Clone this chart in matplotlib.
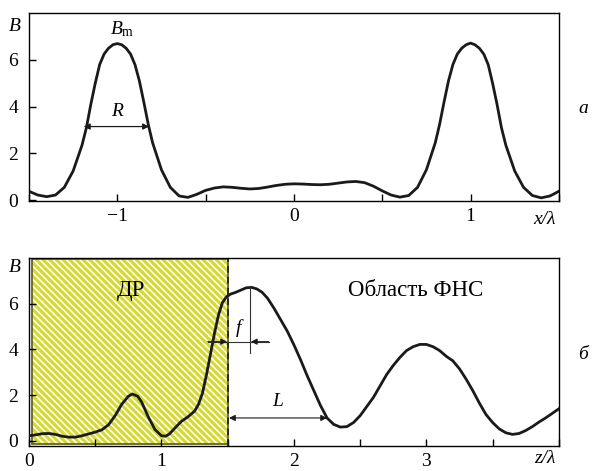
import numpy as np
import matplotlib
matplotlib.use('Agg')
import matplotlib.pyplot as plt
from matplotlib.patches import Rectangle

plt.rcParams['font.family'] = ['Liberation Serif', 'DejaVu Serif']
plt.rcParams['mathtext.fontset'] = 'custom'
plt.rcParams['mathtext.rm'] = 'Liberation Serif'
plt.rcParams['mathtext.it'] = 'Liberation Serif:italic'
plt.rcParams['hatch.linewidth'] = 1.2

# panel a: B(x)
xa = [-1.500, -1.450, -1.400, -1.350, -1.300, -1.250, -1.200, -1.175, -1.150, -1.125,
      -1.100, -1.075, -1.050, -1.025, -1.000, -0.975, -0.950, -0.925, -0.900, -0.875,
      -0.850, -0.825, -0.800, -0.750, -0.700, -0.650, -0.600, -0.550, -0.500, -0.450,
      -0.400, -0.350, -0.300, -0.250, -0.200, -0.150, -0.100, -0.050, 0.000, 0.050,
      0.100, 0.150, 0.200, 0.250, 0.300, 0.350, 0.400, 0.450, 0.500, 0.550,
      0.600, 0.650, 0.700, 0.750, 0.800, 0.825, 0.850, 0.875, 0.900, 0.925,
      0.950, 0.975, 1.000, 1.025, 1.050, 1.075, 1.100, 1.125, 1.150, 1.175,
      1.200, 1.250, 1.300, 1.350, 1.400, 1.450, 1.500]
Ba = [0.38, 0.22, 0.15, 0.22, 0.55, 1.25, 2.35, 3.1, 4.1, 5.0,
      5.8, 6.25, 6.5, 6.65, 6.7, 6.65, 6.5, 6.25, 5.8, 5.1,
      4.2, 3.25, 2.45, 1.3, 0.55, 0.18, 0.12, 0.25, 0.42, 0.52,
      0.57, 0.55, 0.51, 0.48, 0.5, 0.56, 0.63, 0.68, 0.7, 0.69,
      0.67, 0.66, 0.68, 0.73, 0.78, 0.8, 0.75, 0.6, 0.4, 0.22,
      0.13, 0.2, 0.55, 1.3, 2.45, 3.25, 4.2, 5.1, 5.8, 6.25,
      6.5, 6.65, 6.72, 6.65, 6.5, 6.25, 5.8, 5.0, 4.1, 3.1,
      2.35, 1.25, 0.55, 0.2, 0.1, 0.18, 0.38]

# panel b: B(z)
zb = [0.00, 0.05, 0.10, 0.15, 0.20, 0.25, 0.30, 0.35, 0.40, 0.45,
      0.50, 0.55, 0.60, 0.65, 0.70, 0.75, 0.78, 0.82, 0.85, 0.90,
      0.95, 1.00, 1.03, 1.06, 1.10, 1.15, 1.20, 1.25, 1.28, 1.31,
      1.34, 1.37, 1.40, 1.43, 1.46, 1.49, 1.52, 1.56, 1.60, 1.64,
      1.68, 1.72, 1.76, 1.80, 1.85, 1.90, 1.95, 2.00, 2.05, 2.10,
      2.15, 2.20, 2.25, 2.30, 2.35, 2.40, 2.45, 2.50, 2.55, 2.60,
      2.65, 2.70, 2.75, 2.80, 2.85, 2.90, 2.95, 3.00, 3.05, 3.10,
      3.15, 3.20, 3.25, 3.30, 3.35, 3.40, 3.45, 3.50, 3.55, 3.60,
      3.65, 3.70, 3.75, 3.80, 3.85, 3.90, 3.95, 4.00]
Bb = [0.22, 0.26, 0.31, 0.32, 0.28, 0.2, 0.16, 0.16, 0.22, 0.3,
      0.38, 0.48, 0.7, 1.1, 1.6, 1.95, 2.05, 1.95, 1.7, 1.05,
      0.5, 0.22, 0.2, 0.3, 0.55, 0.85, 1.05, 1.3, 1.6, 2.1,
      2.9, 3.8, 4.7, 5.5, 6.05, 6.3, 6.42, 6.5, 6.6, 6.7,
      6.72, 6.65, 6.5, 6.25, 5.8, 5.3, 4.8, 4.2, 3.55, 2.85,
      2.2, 1.55, 1.0, 0.72, 0.6, 0.62, 0.8, 1.1, 1.5, 1.9,
      2.4, 2.9, 3.3, 3.65, 3.95, 4.12, 4.22, 4.22, 4.12, 3.95,
      3.7, 3.5, 3.15, 2.7, 2.2, 1.65, 1.15, 0.8, 0.52, 0.35,
      0.28, 0.32, 0.45, 0.62, 0.82, 1.0, 1.2, 1.4]

FS = 14
FS_TXT = 16.5

fig = plt.figure(figsize=(5.92, 4.71), dpi=100)
ax1 = fig.add_axes([0.049, 0.573, 0.895, 0.399])
ax2 = fig.add_axes([0.049, 0.053, 0.895, 0.399])

for ax in (ax1, ax2):
    for s in ax.spines.values():
        s.set_linewidth(1.0)
    ax.tick_params(direction='in', length=5, width=1.0, labelsize=FS,
                   top=False, right=False)
    ax.tick_params(axis='y', pad=8)
    ax.tick_params(axis='x', pad=5)
    ax.set_yticks([0, 2, 4, 6])

# --- panel a
ax1.plot(xa, Ba, color='#1a1a1a', lw=2.0, solid_joinstyle='round')
ax1.set_xlim(-1.5, 1.5)
ax1.set_ylim(-0.04, 8)
ax1.set_xticks([-1.5, -1, -0.5, 0, 0.5, 1, 1.5])
ax1.set_xticklabels(['', '\u22121', '', '0', '', '1', ''])
ax1.annotate('', xy=(-1.19, 3.15), xytext=(-0.82, 3.15),
             arrowprops=dict(arrowstyle='<|-|>', color='#1a1a1a', lw=0.9,
                             mutation_scale=9, shrinkA=0, shrinkB=0))
ax1.text(-1.0, 3.45, 'R', fontsize=FS, style='italic', ha='center', va='bottom')
ax1.text(-0.97, 6.9, r'$B_\mathrm{m}$', fontsize=FS, ha='center', va='bottom')
ax1.text(-0.027, 0.93, 'B', transform=ax1.transAxes, fontsize=FS, style='italic',
         ha='center', va='center')
ax1.text(0.995, -0.1, 'x/\u03bb', transform=ax1.transAxes, fontsize=FS,
         style='italic', ha='right', va='center')
fig.text(0.985, 0.77, 'а', fontsize=FS, style='italic', ha='center', va='center')

# --- panel b
ax2.add_patch(Rectangle((0.02, -0.12), 1.48, 8.1, facecolor='#d6d92e',
                        edgecolor='none', zorder=1))
ax2.add_patch(Rectangle((0.02, -0.12), 1.48, 8.1, facecolor='none',
                        edgecolor='white', hatch='\\\\\\\\\\', lw=0, zorder=1.1))
ax2.add_patch(Rectangle((0.02, -0.12), 1.48, 8.1, facecolor='none',
                        edgecolor='#5a5a14', lw=1.2, zorder=1.2))
ax2.axvline(1.5, color='#1a1a1a', lw=1.2, ls=(0, (4, 2.5)), zorder=2)
ax2.plot(zb, Bb, color='#1a1a1a', lw=2.0, solid_joinstyle='round', zorder=3)
ax2.set_xlim(0, 4)
ax2.set_ylim(-0.23, 8)
ax2.set_xticks([0, 0.5, 1, 1.5, 2, 2.5, 3, 3.5, 4])
ax2.set_xticklabels(['0', '', '1', '', '2', '', '3', '', ''])

# f: distance from DR boundary to the peak
ax2.plot([1.67, 1.67], [3.85, 6.78], color='#333333', lw=0.8, zorder=4)
ax2.plot([1.35, 1.81], [4.34, 4.34], color='#333333', lw=0.8, zorder=4)
ax2.annotate('', xy=(1.495, 4.34), xytext=(1.35, 4.34),
             arrowprops=dict(arrowstyle='-|>', color='#1a1a1a', lw=0.8,
                             mutation_scale=9, shrinkA=0, shrinkB=0), zorder=5)
ax2.annotate('', xy=(1.675, 4.34), xytext=(1.81, 4.34),
             arrowprops=dict(arrowstyle='-|>', color='#1a1a1a', lw=0.8,
                             mutation_scale=9, shrinkA=0, shrinkB=0), zorder=5)
ax2.text(1.585, 4.95, 'f', fontsize=FS, style='italic', ha='center', va='center')

# L
ax2.annotate('', xy=(1.51, 1.0), xytext=(2.25, 1.0),
             arrowprops=dict(arrowstyle='<|-|>', color='#1a1a1a', lw=0.8,
                             mutation_scale=9, shrinkA=0, shrinkB=0), zorder=5)
ax2.text(1.88, 1.35, 'L', fontsize=FS, style='italic', ha='center', va='bottom')

ax2.text(0.77, 6.6, 'ДР', fontsize=FS_TXT, ha='center', va='center', zorder=5)
ax2.text(2.92, 6.6, 'Область ФНС', fontsize=FS_TXT, ha='center', va='center')
ax2.text(-0.027, 0.952, 'B', transform=ax2.transAxes, fontsize=FS, style='italic',
         ha='center', va='center')
ax2.text(0.995, -0.065, 'z/\u03bb', transform=ax2.transAxes, fontsize=FS,
         style='italic', ha='right', va='center')
fig.text(0.985, 0.247, 'б', fontsize=FS, style='italic', ha='center', va='center')

fig.savefig('out.png', dpi=100)
